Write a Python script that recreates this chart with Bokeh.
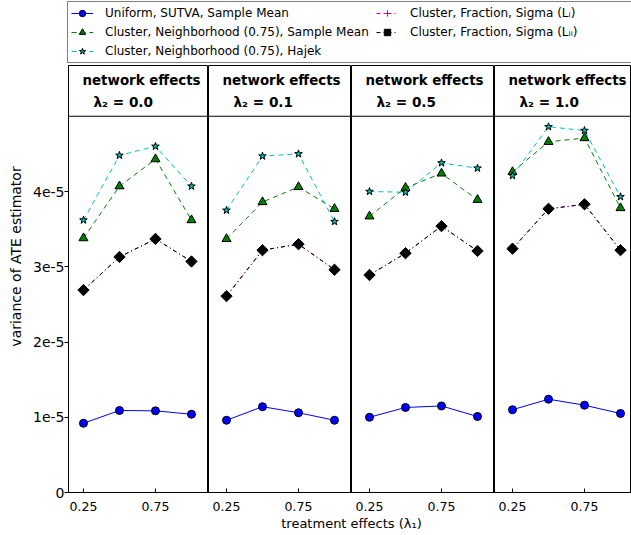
import math
from bokeh.plotting import figure
from bokeh.models import (Range1d, FixedTicker, CustomJSTickFormatter, Label, Span,
                          Legend, LegendItem)
from bokeh.layouts import column, row
from bokeh.embed import file_html
from bokeh.resources import INLINE

# ---------------- data ----------------
lambda1 = [0.25, 0.5, 0.75, 1.0]               # treatment effects
lambda2 = ["0.0", "0.1", "0.5", "1.0"]         # network effects per panel

# variance of ATE estimator, one list per panel (lambda2 = 0.0, 0.1, 0.5, 1.0)
uniform_sutva_mean = [[0.92e-5, 1.09e-5, 1.085e-5, 1.04e-5],
                      [0.96e-5, 1.14e-5, 1.06e-5, 0.96e-5],
                      [1.00e-5, 1.13e-5, 1.15e-5, 1.01e-5],
                      [1.10e-5, 1.24e-5, 1.16e-5, 1.05e-5]]
cluster_nbhd_mean = [[3.38e-5, 4.07e-5, 4.43e-5, 3.62e-5],
                     [3.37e-5, 3.86e-5, 4.06e-5, 3.77e-5],
                     [3.67e-5, 4.05e-5, 4.24e-5, 3.89e-5],
                     [4.26e-5, 4.66e-5, 4.71e-5, 3.78e-5]]
cluster_nbhd_hajek = [[3.62e-5, 4.48e-5, 4.60e-5, 4.07e-5],
                      [3.75e-5, 4.47e-5, 4.50e-5, 3.60e-5],
                      [4.00e-5, 3.99e-5, 4.38e-5, 4.31e-5],
                      [4.21e-5, 4.86e-5, 4.81e-5, 3.93e-5]]
cluster_frac_sigma_LI = [[2.69e-5, 3.13e-5, 3.37e-5, 3.07e-5],
                         [2.61e-5, 3.22e-5, 3.30e-5, 2.96e-5],
                         [2.89e-5, 3.18e-5, 3.54e-5, 3.21e-5],
                         [3.24e-5, 3.77e-5, 3.83e-5, 3.22e-5]]
cluster_frac_sigma_LII = [[2.69e-5, 3.13e-5, 3.37e-5, 3.07e-5],
                          [2.61e-5, 3.22e-5, 3.30e-5, 2.96e-5],
                          [2.89e-5, 3.18e-5, 3.54e-5, 3.21e-5],
                          [3.24e-5, 3.77e-5, 3.83e-5, 3.22e-5]]

series_labels = ["Uniform, SUTVA, Sample Mean",
                 "Cluster, Neighborhood (0.75), Sample Mean",
                 "Cluster, Neighborhood (0.75), Hajek",
                 "Cluster, Fraction, Sigma (L\u1d62)",
                 "Cluster, Fraction, Sigma (L\u1d62\u1d62)"]

x_ticks = [0.25, 0.75]
y_ticks = [0, 1e-5, 2e-5, 3e-5, 4e-5]
y_tick_labels = ["0", "1e-5", "2e-5", "3e-5", "4e-5"]

# ---------------- styles ----------------
FONT = "DejaVu Sans"
BLUE, GREEN, CYAN, MAGENTA, BLACK = "#0000ff", "#008000", "#00bfbf", "#bf00bf", "#000000"

styles = [
    dict(series=uniform_sutva_mean, color=BLUE, dash="solid", marker="circle", size=8,
         fill=BLUE, mline=BLACK),
    dict(series=cluster_nbhd_mean, color=GREEN, dash="5 4", marker="triangle", size=9,
         fill=GREEN, mline=BLACK),
    dict(series=cluster_nbhd_hajek, color=CYAN, dash="5 4", marker="star", size=8,
         fill=CYAN, mline=BLACK),
    dict(series=cluster_frac_sigma_LI, color=MAGENTA, dash="4 3 1 3", marker="cross", size=7,
         fill=MAGENTA, mline=MAGENTA),
    dict(series=cluster_frac_sigma_LII, color=BLACK, dash="4 3 1 3", marker="square", size=8,
         fill=BLACK, mline=BLACK),
]

LEGEND_H = 65
FRAME_H = 427
Y_END = FRAME_H / 75.25 * 1e-5
YLAB_W = 22
frame_w = [140, 143, 143, 137]
x_start = [0.146, 0.125, 0.125, 0.125]
PX_PER_UNIT = 144.0
BOTTOM = 25
PANEL_H = FRAME_H + BOTTOM
XLAB_H = 535 - LEGEND_H - PANEL_H

y_fmt = CustomJSTickFormatter(args=dict(yt=y_ticks, yl=y_tick_labels), code="""
const i = yt.findIndex(t => Math.abs(t - tick) < 1e-12);
return i >= 0 ? yl[i] : '';
""")

# ---------------- y label strip ----------------
yf = figure(width=YLAB_W, height=PANEL_H, x_range=Range1d(0, 1), y_range=Range1d(0, 1),
            output_backend="svg", toolbar_location=None, x_axis_type=None, y_axis_type=None,
            min_border=0)
yf.outline_line_color = None
yf.grid.visible = False
yf.add_layout(Label(x=15, y=236, x_units="screen", y_units="screen",
                    text="variance of ATE estimator", angle=math.pi / 2,
                    text_align="center", text_baseline="middle",
                    text_font=FONT, text_font_size="14px", text_color=BLACK))

panels = [yf]
for i in range(4):
    left = 68 - YLAB_W if i == 0 else 0
    p = figure(width=frame_w[i] + left, height=PANEL_H,
               x_range=Range1d(x_start[i], x_start[i] + frame_w[i] / PX_PER_UNIT),
               y_range=Range1d(0, Y_END),
               output_backend="svg", toolbar_location=None,
               min_border_left=left, min_border_right=0, min_border_top=0,
               min_border_bottom=BOTTOM)
    p.grid.visible = False
    p.outline_line_color = BLACK
    p.outline_line_width = 1
    p.background_fill_color = "white"
    p.border_fill_color = "white"

    xa = p.xaxis[0]
    xa.ticker = FixedTicker(ticks=x_ticks)
    xa.major_label_text_font = FONT
    xa.major_label_text_font_size = "12.5px"
    xa.major_label_text_color = BLACK
    xa.major_tick_in = 4
    xa.major_tick_out = 0
    xa.minor_tick_line_color = None
    xa.axis_line_color = BLACK
    xa.major_label_standoff = 9

    ya = p.yaxis[0]
    if i == 0:
        ya.ticker = FixedTicker(ticks=y_ticks)
        ya.formatter = y_fmt
        ya.major_label_text_font = FONT
        ya.major_label_text_font_size = "14px"
        ya.major_label_text_color = BLACK
        ya.major_tick_in = 0
        ya.major_tick_out = 4
        ya.minor_tick_line_color = None
        ya.major_label_standoff = 0
        ya.axis_line_color = BLACK
    else:
        ya.visible = False

    # title box
    p.add_layout(Span(location=5e-5, dimension="width", line_color=BLACK, line_width=1))
    p.add_layout(Label(x=14, y=FRAME_H - 15, x_units="screen", y_units="screen",
                       text="network effects", text_align="left", text_baseline="middle",
                       text_font=FONT, text_font_size="13.4px", text_font_style="bold",
                       text_color=BLACK))
    p.add_layout(Label(x=25, y=FRAME_H - 36, x_units="screen", y_units="screen",
                       text="\u03bb\u2082 = " + lambda2[i], text_align="left",
                       text_baseline="middle", text_font=FONT, text_font_size="13.6px",
                       text_font_style="bold", text_color=BLACK))

    for s in styles:
        p.line(lambda1, s["series"][i], line_color=s["color"], line_width=1,
               line_dash=s["dash"])
        kw = dict(marker=s["marker"], size=s["size"], fill_color=s["fill"],
                  line_color=s["mline"], line_width=1)
        if s["marker"] == "square":
            kw["angle"] = math.pi / 4
        p.scatter(lambda1, s["series"][i], **kw)
    panels.append(p)

# ---------------- legend strip ----------------
# proxy renderers (outside the visible range) only feed the legend glyphs
lf = figure(width=631, height=LEGEND_H, x_range=Range1d(10, 11), y_range=Range1d(0, 1),
            output_backend="svg", toolbar_location=None, x_axis_type=None, y_axis_type=None,
            min_border=0)
lf.outline_line_color = None
lf.grid.visible = False
items = []
for s, lab in zip(styles, series_labels):
    lr = lf.line(lambda1, s["series"][0], line_color=s["color"], line_width=1,
                 line_dash=s["dash"])
    kw = dict(marker=s["marker"], size=s["size"], fill_color=s["fill"],
              line_color=s["mline"], line_width=1)
    if s["marker"] == "square":
        kw["angle"] = math.pi / 4
    sr = lf.scatter(lambda1, s["series"][0], **kw)
    items.append(LegendItem(label=lab, renderers=[lr, sr]))
legend = Legend(items=items, location=(67, 2), orientation="vertical", nrows=3,
                border_line_color=BLACK, border_line_width=1,
                background_fill_color="white", background_fill_alpha=1.0,
                label_text_font=FONT, label_text_font_size="12px", label_text_color=BLACK,
                glyph_width=22, glyph_height=16, label_height=16, label_width=268,
                label_standoff=12, spacing=3, padding=3, margin=0)
lf.add_layout(legend)

# ---------------- x label strip ----------------
xf = figure(width=631, height=XLAB_H, x_range=Range1d(0, 1), y_range=Range1d(0, 1),
            output_backend="svg", toolbar_location=None, x_axis_type=None, y_axis_type=None,
            min_border=0)
xf.outline_line_color = None
xf.grid.visible = False
xf.add_layout(Label(x=351, y=12, x_units="screen", y_units="screen",
                    text="treatment effects (\u03bb\u2081)", text_align="center",
                    text_baseline="middle", text_font=FONT, text_font_size="13px",
                    text_color=BLACK))

layout = column(lf, row(*panels), xf)
open("out.html", "w").write(file_html(layout, INLINE))
